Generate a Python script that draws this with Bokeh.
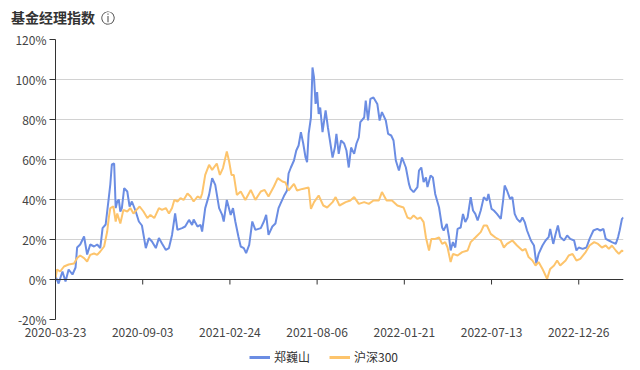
import math
from bokeh.plotting import figure
from bokeh.layouts import column
from bokeh.models import (Range1d, FixedTicker, PrintfTickFormatter, Span,
                          Legend, LegendItem, Div)
from bokeh.embed import file_html
from bokeh.resources import INLINE

# ---- data (trading-day index from 2020-03-23, cumulative return %) ----
tick_idx = [0, 113, 226, 339, 452, 565, 678]
tick_labels = ["2020-03-23", "2020-09-03", "2021-02-24", "2021-08-06",
               "2022-01-21", "2022-07-13", "2022-12-26"]
y_ticks = [-20, 0, 20, 40, 60, 80, 100, 120]

blue_name = "郑巍山"
blue_idx = [0, 4, 9, 13, 17, 22, 26, 28, 32, 37, 41, 45, 50, 54, 58, 61, 65, 69, 71, 73,
            76, 78, 80, 82, 84, 86, 89, 93, 96, 99, 104, 108, 112, 117, 121, 125, 130, 134, 138, 143,
            147, 151, 155, 158, 164, 168, 173, 177, 179, 184, 188, 190, 194, 199, 203, 207, 212, 216, 218, 222,
            227, 230, 233, 237, 240, 244, 247, 251, 255, 259, 266, 270, 273, 276, 281, 285, 289, 292, 296, 300,
            302, 305, 309, 312, 315, 318, 321, 324, 326, 328, 331, 333, 335, 337, 339, 341, 343, 346, 350, 353,
            355, 359, 362, 364, 367, 370, 374, 377, 380, 383, 387, 390, 393, 395, 400, 402, 405, 408, 412, 417,
            420, 423, 428, 431, 435, 438, 441, 445, 449, 454, 458, 460, 464, 469, 471, 474, 477, 480, 482, 486,
            489, 492, 497, 501, 503, 507, 510, 512, 515, 518, 521, 525, 528, 531, 534, 538, 541, 544, 547, 551,
            555, 559, 561, 565, 568, 572, 577, 580, 582, 585, 589, 592, 595, 598, 602, 605, 608, 611, 616, 620,
            623, 626, 631, 635, 639, 641, 645, 648, 651, 654, 659, 663, 667, 672, 675, 678, 683, 688, 692, 697,
            702, 706, 710, 713, 717, 721, 726, 729, 731, 734, 736]
blue_val = [1.5, -2, 4, -1, 5, 2.5, 6, 16, 17.5, 21.5, 12.5, 17.5, 16.5, 17.5, 15.7, 25.7, 27.5, 40.7, 47.5, 57.5,
            58, 35.7, 39, 40, 34, 35.7, 45.7, 44, 36.5, 39, 34, 29, 27, 15.7, 20.7, 19, 15.7, 20.7, 18, 14.8,
            15.7, 22.3, 33, 24.8, 25.7, 26.5, 29.8, 27.3, 30, 26.5, 27.3, 24, 35.7, 42.3, 50.7, 47.3, 35.7, 32.3, 29, 39.8,
            32.3, 35.7, 29, 21.5, 16.5, 15.7, 13.2, 17.3, 29, 24.8, 25.7, 29, 32.3, 22.3, 26.5, 28, 35.7, 38.3, 41.7, 44.5,
            53, 56, 59.5, 64.5, 67, 73.7, 68, 61, 58.7, 72.8, 81, 106, 101, 87.8, 93.7, 82.8, 86, 73.7, 84.5, 76,
            71, 61, 66, 72.8, 62.8, 69.5, 68, 64.5, 56, 66, 62.8, 68, 71, 78.7, 81, 89.5, 79.5, 90.3, 91, 87.8,
            79.5, 83.7, 79.5, 72.8, 72, 69.5, 59.5, 54.5, 61, 56, 47.8, 45.3, 43.7, 46.2, 54.5, 56, 48.7, 51, 46.2, 52,
            51, 42.8, 36, 26, 24.5, 27.8, 21, 14.5, 18.7, 16, 25.3, 26, 32.8, 28.7, 31, 41.2, 34.5, 32.8, 29.5, 34.5,
            41.2, 39.5, 42.8, 35.3, 34.5, 32.8, 30.3, 39.5, 47, 44.5, 40.3, 41.2, 32.8, 30.3, 28.7, 31, 28.7, 24.5, 19.5, 17,
            8, 12.8, 17, 19.5, 21.2, 25.3, 17.8, 22.8, 27, 21.2, 19.5, 22, 20.3, 19.5, 14.5, 16, 15.3, 16, 20.3, 24.5,
            25.3, 24.5, 25.3, 20.3, 19.5, 18.7, 17.8, 21.2, 24.5, 30.3, 31]

orange_name = "沪深300"
orange_idx = [0, 2, 6, 11, 17, 24, 28, 32, 37, 41, 45, 50, 54, 58, 63, 67, 69, 71, 75, 78,
              80, 84, 88, 93, 97, 101, 105, 109, 114, 119, 123, 128, 134, 138, 143, 147, 151, 154, 158, 162,
              166, 171, 175, 179, 184, 188, 190, 194, 199, 203, 209, 213, 217, 222, 225, 228, 231, 235, 240, 246,
              253, 259, 266, 271, 276, 283, 288, 294, 298, 302, 309, 313, 320, 328, 331, 335, 341, 347, 352, 359,
              363, 368, 376, 382, 387, 393, 400, 406, 412, 419, 423, 429, 436, 443, 451, 456, 460, 464, 469, 473,
              477, 480, 484, 487, 492, 497, 501, 505, 508, 512, 515, 521, 527, 534, 538, 544, 551, 555, 559, 564,
              570, 577, 581, 585, 592, 598, 605, 609, 613, 618, 622, 626, 631, 635, 637, 641, 646, 650, 654, 661,
              665, 670, 675, 680, 687, 692, 698, 703, 708, 713, 717, 721, 726, 730, 734, 736]
orange_val = [0.7, 5, 4, 6.5, 7.5, 8, 10.7, 12, 10.7, 9, 12.3, 13, 12.3, 14, 16.5, 24, 30.7, 35.7, 36.5, 29,
              33, 28, 34.8, 34, 35.7, 33, 34.8, 36.5, 34, 30.7, 32.3, 30.7, 35.7, 34.8, 35.7, 33, 35.7, 39.8, 39, 40.7,
              39.8, 43, 41.5, 39, 41.5, 40.7, 43, 52.3, 57.3, 54.8, 58, 52.3, 55.7, 64, 59, 52.3, 52.3, 42.3, 44, 39.8,
              44.8, 39.8, 44, 44.8, 41.5, 46.5, 50.7, 49, 48.5, 44.5, 47.8, 44.5, 45.3, 46, 35.3, 38.7, 42, 37, 36, 38.7,
              41.2, 37, 38.7, 39.5, 41.2, 37.8, 38.7, 37.8, 39.5, 39.5, 43.7, 39.5, 39.5, 37, 36, 31, 30.3, 32, 30.3, 31,
              28.7, 21, 14.5, 20.3, 20.3, 21, 17.8, 18.7, 16, 8.7, 12.8, 12, 13.7, 14.5, 18.7, 21, 23.7, 27, 27, 22.8,
              21, 19.5, 16, 17.8, 19.5, 17, 14.5, 15.3, 11.2, 9.5, 7, 8.7, 5.3, 2, 0.3, 5.3, 7, 9.5, 7, 9.5,
              12, 12.8, 9.5, 10.3, 13.7, 17, 18.7, 17.8, 16, 17, 15.3, 17, 14.5, 12.8, 14.5, 14]

title_text = "基金经理指数"
info_icon = "ⓘ"

FONT = "Noto Sans CJK SC"
BLUE = "#6b8de3"
ORANGE = "#fdc46c"
W = 640

# ---- title strip ----
t = Div(text=(f'<span style="font-weight:bold;color:#333333">{title_text}</span>'
              '<span style="display:inline-block;opacity:0.99;will-change:transform;'
              'font-family:\'DejaVu Sans\',sans-serif;font-weight:normal;'
              f'color:#333333;margin-left:6px">{info_icon}</span>'),
        width=W, height=30, margin=0,
        styles={"font-family": FONT, "font-size": "14px", "color": "#333333",
                "line-height": "20px", "padding-top": "7px", "padding-left": "11px",
                "box-sizing": "border-box", "white-space": "nowrap"})

# ---- main chart ----
p = figure(width=W, height=314, output_backend="svg", toolbar_location=None,
           x_range=Range1d(tick_idx[0], 736), y_range=Range1d(y_ticks[0], y_ticks[-1]),
           min_border_left=55, min_border_right=17, min_border_top=9, min_border_bottom=25)
p.outline_line_color = None
p.background_fill_color = "white"
p.border_fill_color = "white"

p.xgrid.visible = False
p.ygrid.grid_line_color = "#d2d2d2"
p.ygrid.grid_line_width = 1

p.yaxis.ticker = FixedTicker(ticks=y_ticks)
p.yaxis.formatter = PrintfTickFormatter(format="%d%%")
p.yaxis.axis_line_color = "#333333"
p.yaxis.major_tick_line_color = "#333333"
p.yaxis.major_tick_out = 6
p.yaxis.major_tick_in = 0
p.yaxis.minor_tick_line_color = None
p.yaxis.major_label_standoff = 3
p.yaxis.major_label_text_font = FONT
p.yaxis.major_label_text_font_size = "12px"
p.yaxis.major_label_text_color = "#444444"

p.xaxis.ticker = FixedTicker(ticks=tick_idx)
p.xaxis.major_label_overrides = dict(zip(tick_idx, tick_labels))
p.xaxis.axis_line_color = None
p.xaxis.major_tick_line_color = None
p.xaxis.minor_tick_line_color = None
p.xaxis.major_label_standoff = 2
p.xaxis.major_label_text_font = FONT
p.xaxis.major_label_text_font_size = "12px"
p.xaxis.major_label_text_color = "#444444"

p.line(blue_idx, blue_val, line_color=BLUE, line_width=2)
p.line(orange_idx, orange_val, line_color=ORANGE, line_width=2)

# zero axis line with downward ticks
p.add_layout(Span(location=0, dimension="width", line_color="#333333", line_width=1))
p.ray(x=tick_idx, y=[0] * len(tick_idx), length=5, length_units="screen",
      angle=-math.pi / 2, line_color="#333333", line_width=1)

# ---- legend strip (frame is aligned with the main chart frame) ----
lg = figure(width=W, height=26, output_backend="svg", toolbar_location=None,
            x_axis_type=None, y_axis_type=None, min_border=0,
            x_range=Range1d(0, 1), y_range=Range1d(0, 1))
lg.outline_line_color = None
lg.xgrid.visible = False
lg.ygrid.visible = False
k1 = lg.line(x=[0.5], y=[0.5], line_color=BLUE, line_width=3)
k2 = lg.line(x=[0.5], y=[0.5], line_color=ORANGE, line_width=3)
legend = Legend(items=[LegendItem(label=blue_name, renderers=[k1]),
                       LegendItem(label=orange_name, renderers=[k2])],
                orientation="horizontal", location=(194, 5),
                padding=0, margin=0, spacing=19, glyph_width=21, glyph_height=14,
                label_height=14, label_standoff=4,
                label_text_font=FONT, label_text_font_size="12px",
                label_text_color="#333333", background_fill_alpha=0,
                border_line_color=None)
lg.add_layout(legend)

layout = column(t, p, lg, spacing=0)
open("out.html", "w").write(file_html(layout, INLINE))
